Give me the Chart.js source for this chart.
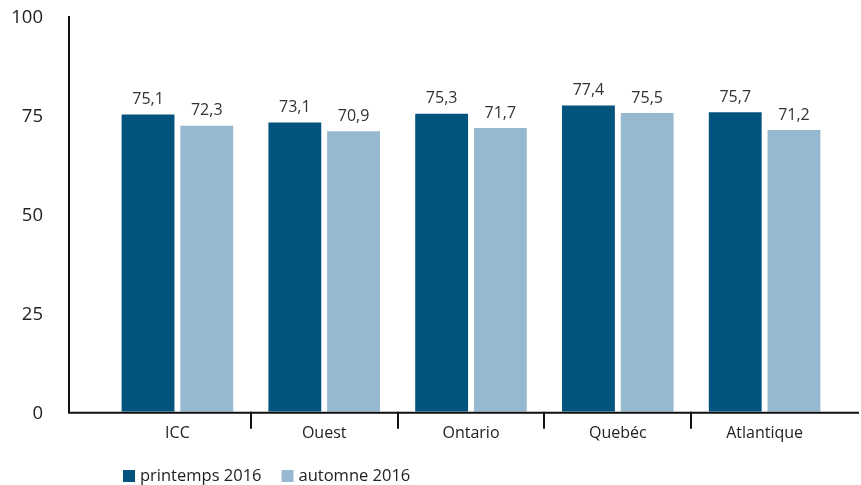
<!DOCTYPE html>
<html>
<head>
<meta charset="utf-8">
<script src="https://cdn.jsdelivr.net/npm/chart.js@4"></script>
<style>
  html, body { margin: 0; padding: 0; background: #fff; }
  #wrap { width: 861px; height: 485px; }
</style>
</head>
<body>
<div id="wrap"><canvas id="chart"></canvas></div>
<script>
// Regions and the two survey waves
const regions = ['ICC', 'Ouest', 'Ontario', 'Quebéc', 'Atlantique'];
const spring2016 = [75.1, 73.1, 75.3, 77.4, 75.7];
const autumn2016 = [72.3, 70.9, 71.7, 75.5, 71.2];
const yTicks = [0, 25, 50, 75, 100];

const FONT = '"Open Sans", "Liberation Sans", sans-serif';
const AXIS_X = 69;     // where the vertical axis line sits
const AXIS_RIGHT = 859;

const fmt = v => v.toFixed(1).replace('.', ',');

// Axis lines and category separators drawn outside the chart area
const axisLines = {
  id: 'axisLines',
  afterDraw(chart) {
    const { ctx, chartArea, scales } = chart;
    const y0 = scales.y.getPixelForValue(0);
    const yTop = scales.y.getPixelForValue(100);
    ctx.save();
    ctx.strokeStyle = '#111';
    ctx.lineWidth = 2;
    ctx.beginPath();
    ctx.moveTo(AXIS_X, yTop);
    ctx.lineTo(AXIS_X, y0 + 1);
    ctx.lineTo(AXIS_RIGHT, y0 + 1);
    ctx.stroke();
    const step = (chartArea.right - chartArea.left) / regions.length;
    ctx.beginPath();
    for (let i = 1; i < regions.length; i++) {
      const px = Math.round(chartArea.left + step * i);
      ctx.moveTo(px, y0);
      ctx.lineTo(px, y0 + 17);
    }
    ctx.stroke();
    ctx.restore();
  }
};

// Value labels above each bar
const barValues = {
  id: 'barValues',
  afterDatasetsDraw(chart) {
    const { ctx } = chart;
    ctx.save();
    ctx.font = '16px ' + FONT;
    ctx.fillStyle = '#333';
    ctx.textAlign = 'center';
    ctx.textBaseline = 'bottom';
    chart.data.datasets.forEach((ds, di) => {
      chart.getDatasetMeta(di).data.forEach((bar, i) => {
        ctx.fillText(fmt(ds.data[i]), bar.x, bar.y - 7);
      });
    });
    ctx.restore();
  }
};

// Legend row under the axis, aligned with the first bar
const seriesLegend = {
  id: 'seriesLegend',
  afterDraw(chart) {
    const { ctx } = chart;
    ctx.save();
    ctx.font = '16.5px ' + FONT;
    ctx.textBaseline = 'middle';
    let x = 123;
    const y = 476;
    chart.data.datasets.forEach(ds => {
      ctx.fillStyle = ds.backgroundColor;
      ctx.fillRect(x, y - 6, 12, 12);
      ctx.fillStyle = '#222';
      ctx.fillText(ds.label, x + 17, y);
      x += 17 + ctx.measureText(ds.label).width + 20;
    });
    ctx.restore();
  }
};

new Chart(document.getElementById('chart'), {
  type: 'bar',
  data: {
    labels: regions,
    datasets: [
      { label: 'printemps 2016', data: spring2016, backgroundColor: '#02547e' },
      { label: 'automne 2016', data: autumn2016, backgroundColor: '#97b8d1' }
    ]
  },
  options: {
    responsive: true,
    maintainAspectRatio: false,
    animation: false,
    categoryPercentage: 0.8,
    barPercentage: 0.9,
    layout: { padding: { top: 16, right: 23, left: 0, bottom: 38 } },
    plugins: {
      tooltip: { enabled: false },
      legend: { display: false }
    },
    scales: {
      x: {
        grid: { display: false },
        border: { display: false },
        ticks: {
          color: '#222',
          padding: 4,
          font: { family: FONT, size: 16 }
        }
      },
      y: {
        min: 0,
        max: 100,
        afterBuildTicks: scale => { scale.ticks = yTicks.map(v => ({ value: v })); },
        afterFit: scale => {
          scale.width = 104;
          scale.paddingTop = 0;
          scale.paddingBottom = 0;
        },
        grid: { display: false },
        border: { display: false },
        ticks: {
          color: '#222',
          padding: 53,
          labelOffset: 2,
          font: { family: FONT, size: 18.5 }
        }
      }
    }
  },
  plugins: [axisLines, barValues, seriesLegend]
});
</script>
</body>
</html>
